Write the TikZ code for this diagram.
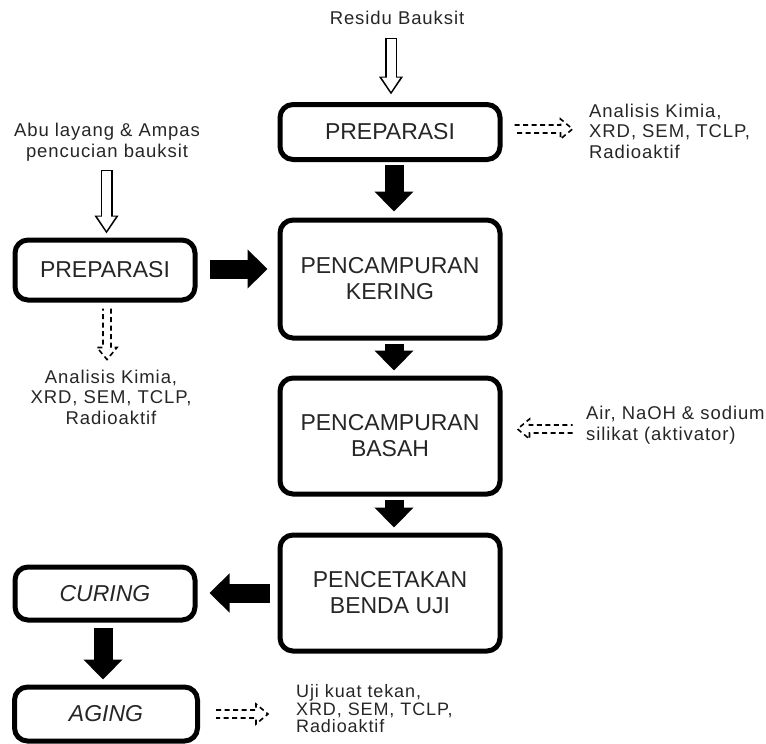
\documentclass[tikz,border=0pt]{standalone}
\usepackage{fontspec}
\setmainfont{Liberation Sans}
\newfontfamily\lblfont[LetterSpace=5]{Liberation Sans}
\usetikzlibrary{arrows.meta,calc}
\newcommand\hollowarrow[2]{%
  \draw[line width=12pt, -{Triangle[length=18pt,width=23pt]}] #1 -- #2;
  \draw[white, line width=9pt, shorten <=1.5pt, shorten >=2.8pt, -{Triangle[length=14pt,width=17.5pt]}] #1 -- #2;}
\newcommand\dashhollow[3]{%
  \begin{scope}[shift={#1}, rotate=#2]
    \draw[dashhead] (0,-4) -- (#3-12,-4) -- (#3-12,-10) -- (#3,0) -- (#3-12,10) -- (#3-12,4) -- (0,4);
  \end{scope}}
\begin{document}
\begin{tikzpicture}[x=1pt,y=-1pt,
  box/.style={draw, line width=5pt, rounded corners=13pt, text=black!85, font=\fontsize{23}{26}\selectfont, align=center, inner sep=0pt},
  lbl/.style={text=black!85, font=\lblfont\fontsize{18.5}{20.5}\selectfont, inner sep=0pt},
  blk/.style={line width=19pt, -{Triangle[length=20pt,width=38pt]}},
  dashhead/.style={line width=1.6pt, dash pattern=on 5pt off 3.5pt}
]
\useasboundingbox (0,0) rectangle (766,744);

% boxes
\node[box, minimum width=220pt, minimum height=55pt] (top) at (390,132) {PREPARASI};
\node[box, minimum width=220pt, minimum height=118pt] (kering) at (390,279) {PENCAMPURAN\\KERING};
\node[box, minimum width=220pt, minimum height=116pt] (basah) at (390,436) {PENCAMPURAN\\BASAH};
\node[box, minimum width=220pt, minimum height=116pt] (cetak) at (390,593) {PENCETAKAN\\BENDA UJI};
\node[box, minimum width=180pt, minimum height=60pt] (lprep) at (105,270) {PREPARASI};
\node[box, minimum width=180pt, minimum height=53pt] (curing) at (105,593.5) {\itshape CURING};
\node[box, minimum width=183pt, minimum height=54pt] (aging) at (106,714) {\itshape AGING};

% labels
\node[lbl] (residu) at (397,18) {Residu Bauksit};
\node[lbl, anchor=west, align=left] (trlab) at (589,131) {Analisis Kimia,\\XRD, SEM, TCLP,\\Radioaktif};
\node[lbl, align=center] (abu) at (107,142) {Abu layang \& Ampas\\pencucian bauksit};
\node[lbl, align=center] (lllab) at (111,397) {Analisis Kimia,\\XRD, SEM, TCLP,\\Radioaktif};
\node[lbl, anchor=west, align=left] (air) at (586,425) {Air, NaOH \& sodium\\silikat (aktivator)};
\node[lbl, anchor=west, align=left, font=\lblfont\fontsize{18}{17.5}\selectfont] (uji) at (296,709) {Uji kuat tekan,\\XRD, SEM, TCLP,\\Radioaktif};

% hollow input arrows
\hollowarrow{($(top.north)+(1,-64.5)$)}{($(top.north)+(1,-7.5)$)}
\hollowarrow{($(lprep.north)+(1.5,-68)$)}{($(lprep.north)+(1.5,-4)$)}

% black block arrows
\draw[blk] ($(top.south)+(4,2.5)$) -- ($(kering.north)+(4,-6)$);
\draw[blk] ($(lprep.east)+(12,-1)$) -- ($(lprep.east -| kering.west)+(-10,-1)$);
\draw[blk] ($(kering.south)+(4,3)$) -- ($(basah.north)+(4,-5)$);
\draw[blk] ($(basah.south)+(4,3)$) -- ($(cetak.north)+(4,-5)$);
\draw[blk] ($(cetak.west)+(-8,0)$) -- ($(cetak.west -| curing.east)+(12,0)$);
\draw[blk] ($(curing.south)+(-2,5)$) -- ($(aging.north)+(-3,-5)$);

% dashed hollow arrows
\dashhollow{($(top.east)+(12,-3)$)}{0}{58}
\dashhollow{($(lprep.south)+(2,6)$)}{-90}{51}
\dashhollow{($(basah.east)+(70,-7)$)}{180}{55}
\dashhollow{($(aging.east)+(16,0)$)}{0}{52}
\end{tikzpicture}
\end{document}
